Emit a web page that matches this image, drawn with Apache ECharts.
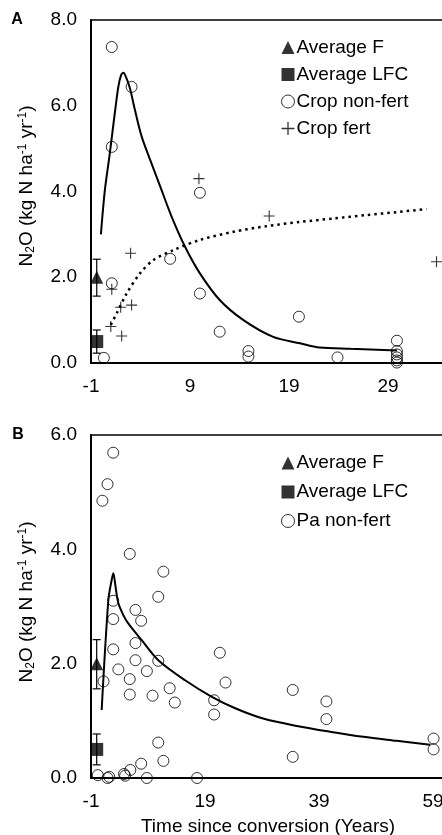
<!DOCTYPE html>
<html><head><meta charset="utf-8">
<script src="https://cdn.jsdelivr.net/npm/echarts@6.0.0/dist/echarts.min.js"></script>
<style>html,body{margin:0;padding:0;background:#fff}#c{width:442px;height:835px}</style>
</head><body><div id="c"></div><script>
// ---------- Panel A (crop) ----------
const xTicksA = { min: -1, max: 39, step: 10 };
const yTicksA = { min: 0, max: 8, step: 2 };
const avgXA = -0.42;
const avgF = [2.0, 1.56, 2.42];      // mean, low, high
const avgLFC = [0.5, 0.23, 0.77];    // mean, low, high
const cropNonFert = [[1.1,7.37],[3.1,6.44],[1.1,5.04],[10,3.97],[1.1,1.86],[7,2.43],[10,1.62],[12,0.73],[20,1.08],[14.9,0.28],[14.9,0.15],[0.3,0.12],[23.9,0.13],[29.9,0.52],[29.9,0.28],[29.9,0.2],[29.9,0.13],[29.9,0.06],[29.9,0.01]];
const cropFert = [[9.9,4.30],[17,3.43],[3,2.56],[33.9,2.36],[1.1,1.72],[2,1.30],[3.1,1.35],[1,0.85],[2.1,0.63]];
const cropNonFertFit = [[0.0,3.0],[0.4,4.03],[0.9,4.89],[1.4,5.82],[1.76,6.44],[2.03,6.71],[2.27,6.77],[2.6,6.63],[2.94,6.40],[3.44,5.90],[4.12,5.28],[5.12,4.65],[6.13,4.03],[7.15,3.41],[8.5,2.71],[10,2.09],[12,1.47],[14.4,1.0],[17.4,0.61],[20.1,0.46],[22.1,0.36],[25.2,0.33],[29.9,0.29]];
const cropFertFit = [[1.0,0.89],[1.6,1.16],[2.6,1.62],[3.95,2.09],[5.3,2.40],[7.3,2.63],[10,2.87],[13.4,3.06],[16.7,3.19],[20.1,3.29],[23.5,3.37],[26.8,3.45],[29.9,3.52],[32.9,3.59]];
const legendA = ['Average F','Average LFC','Crop non-fert','Crop fert'];

// ---------- Panel B (pasture) ----------
const xTicksB = { min: -1, max: 69, step: 20 };
const yTicksB = { min: 0, max: 6, step: 2 };
const avgXB = 0;
const paNonFert = [[1.0,4.85],[1.9,5.14],[2.9,5.69],[5.8,3.92],[11.7,3.61],[10.8,3.17],[2.9,3.10],[6.8,2.94],[2.9,2.78],[7.8,2.75],[6.8,2.36],[2.9,2.25],[6.8,2.06],[10.8,2.05],[3.8,1.90],[8.8,1.87],[1.2,1.69],[5.8,1.73],[12.8,1.57],[5.8,1.46],[9.8,1.44],[13.7,1.32],[21.6,2.19],[22.6,1.67],[20.6,1.36],[20.6,1.11],[10.8,0.62],[11.7,0.30],[7.8,0.25],[5.9,0.14],[4.8,0.07],[5.0,0.04],[2.2,0.02],[1.9,0.0],[0.2,0.05],[8.8,0.0],[17.6,0.0],[34.4,1.54],[40.3,1.34],[40.3,1.03],[34.4,0.37],[59.1,0.69],[59.1,0.50]];
const paNonFertFit = [[0.87,1.19],[2.04,3.11],[2.6,3.45],[2.92,3.58],[3.3,3.35],[3.79,3.06],[4.67,2.85],[5.5,2.71],[7.9,2.41],[10.8,2.06],[15.5,1.71],[20.2,1.42],[24.3,1.22],[29.2,1.04],[35.1,0.91],[40.9,0.81],[46.8,0.72],[52.6,0.65],[58.5,0.58]];
const legendB = ['Average F','Average LFC','Pa non-fert'];

const yName = 'N{sub|2}O (kg N ha{sup|-1} yr{sup|-1})';
const xName = 'Time since conversion (Years)';

const FONT = '"Liberation Sans", Arial, sans-serif';
const plus = 'path://M0,4.5L10,4.5L10,5.5L0,5.5ZM4.5,0L5.5,0L5.5,10L4.5,10Z';

function errRender(params, api) {
  const x = api.value(0), lo = api.value(1), hi = api.value(2);
  const p1 = api.coord([x, lo]), p2 = api.coord([x, hi]);
  const hw = 4, st = { stroke: '#000', lineWidth: 1.2 };
  return { type: 'group', children: [
    { type: 'line', shape: { x1: p1[0], y1: p1[1], x2: p2[0], y2: p2[1] }, style: st },
    { type: 'line', shape: { x1: p1[0]-hw, y1: p1[1], x2: p1[0]+hw, y2: p1[1] }, style: st },
    { type: 'line', shape: { x1: p2[0]-hw, y1: p2[1], x2: p2[0]+hw, y2: p2[1] }, style: st }
  ]};
}

function xAx(i, t) {
  return { gridIndex: i, type: 'value', min: t.min, max: t.max, interval: t.step,
    axisLine: { onZero: false, lineStyle: { color: '#000', width: 2 } },
    axisTick: { show: false }, splitLine: { show: false },
    axisLabel: { color: '#000', fontSize: 19, fontFamily: FONT, margin: 14 } };
}
function yAx(i, t) {
  return { gridIndex: i, type: 'value', min: t.min, max: t.max, interval: t.step,
    axisLine: { show: true, onZero: false, lineStyle: { color: '#000', width: 2 } },
    axisTick: { show: false }, splitLine: { show: false },
    axisLabel: { color: '#000', fontSize: 19, fontFamily: FONT, margin: 14, formatter: v => v.toFixed(1) } };
}
function panelSeries(i, avgX, circles, circName, fit, extra) {
  const s = [
    { type: 'line', name: 'fit' + i, xAxisIndex: i, yAxisIndex: i, data: fit, symbol: 'none', smooth: 0.3,
      lineStyle: { color: '#000', width: 2 }, silent: true, z: 2 },
    { type: 'scatter', name: circName, xAxisIndex: i, yAxisIndex: i, data: circles, symbol: 'circle', symbolSize: 11, clip: false,
      itemStyle: { color: 'rgba(0,0,0,0)', borderColor: '#000', borderWidth: 1 }, z: 3 },
    { type: 'custom', name: 'err' + i, xAxisIndex: i, yAxisIndex: i, renderItem: errRender,
      data: [[avgX, avgF[1], avgF[2]], [avgX, avgLFC[1], avgLFC[2]]], encode: { x: 0, y: [1, 2] }, z: 4, silent: true },
    { type: 'scatter', name: 'Average F', xAxisIndex: i, yAxisIndex: i, data: [[avgX, avgF[0]]], symbol: 'triangle', symbolSize: 13, clip: false,
      itemStyle: { color: '#000' }, z: 5 },
    { type: 'scatter', name: 'Average LFC', xAxisIndex: i, yAxisIndex: i, data: [[avgX, avgLFC[0]]], symbol: 'rect', symbolSize: 13, clip: false,
      itemStyle: { color: '#000' }, z: 5 }
  ];
  return s.concat(extra || []);
}

const series = panelSeries(0, avgXA, cropNonFert, 'Crop non-fert', cropNonFertFit, [
  { type: 'line', name: 'fitFert', xAxisIndex: 0, yAxisIndex: 0, data: cropFertFit, symbol: 'none', smooth: 0.3,
    lineStyle: { color: '#000', width: 2.5, type: [2.5, 4] }, silent: true, z: 2 },
  { type: 'scatter', name: 'Crop fert', xAxisIndex: 0, yAxisIndex: 0, data: cropFert, symbol: plus, symbolSize: 11, clip: false,
    itemStyle: { color: '#000' }, z: 3 }
]).concat(panelSeries(1, avgXB, paNonFert, 'Pa non-fert', paNonFertFit));

function legendItems(names) {
  return names.map(n => {
    if (n === 'Average F') return { name: n, icon: 'triangle', itemStyle: { color: '#000' } };
    if (n === 'Average LFC') return { name: n, icon: 'rect', itemStyle: { color: '#000' } };
    if (n === 'Crop fert') return { name: n, icon: plus, itemStyle: { color: '#000' } };
    return { name: n, icon: 'circle', itemStyle: { color: 'rgba(0,0,0,0)', borderColor: '#000', borderWidth: 1 } };
  });
}
function legend(names, top, gap) {
  return { orient: 'vertical', left: 276, top: top, itemWidth: 13, itemHeight: 13, itemGap: gap, selectedMode: false,
    textStyle: { color: '#000', fontSize: 19, fontFamily: FONT, lineHeight: 19, padding: [0, 0, 0, -3] }, data: legendItems(names) };
}
const rich = {
  sub: { fontSize: 12, lineHeight: 12, verticalAlign: 'bottom', fontFamily: FONT, fill: '#000', color: '#000' },
  sup: { fontSize: 12, lineHeight: 12, verticalAlign: 'top', fontFamily: FONT, fill: '#000', color: '#000' }
};
function yNameText(y) {
  return { type: 'text', x: 27, y: y, rotation: Math.PI / 2,
    style: { text: yName, rich: rich, fontSize: 19, fontFamily: FONT, lineHeight: 20, fill: '#000', align: 'center', verticalAlign: 'middle' } };
}

const chart = echarts.init(document.getElementById('c'), null, { renderer: 'canvas' });
chart.setOption({
  animation: false,
  backgroundColor: '#fff',
  grid: [
    { left: 91, right: -45, top: 20, bottom: 472, containLabel: false, outerBoundsMode: 'none', show: true, borderColor: '#000', borderWidth: 1.3, backgroundColor: 'transparent' },
    { left: 91, right: -48, top: 435, bottom: 57, containLabel: false, outerBoundsMode: 'none', show: true, borderColor: '#000', borderWidth: 1.3, backgroundColor: 'transparent' }
  ],
  xAxis: [xAx(0, xTicksA), xAx(1, xTicksB)],
  yAxis: [yAx(0, yTicksA), yAx(1, yTicksB)],
  legend: [legend(legendA, 33, 8), legend(legendB, 448.5, 10)],
  series: series,
  graphic: [
    { type: 'text', x: 17, y: 20, style: { text: 'A', fontSize: 16, fontWeight: 'bold', fontFamily: FONT, fill: '#000', align: 'center', verticalAlign: 'middle' } },
    { type: 'text', x: 18, y: 435, style: { text: 'B', fontSize: 16, fontWeight: 'bold', fontFamily: FONT, fill: '#000', align: 'center', verticalAlign: 'middle' } },
    yNameText(186), yNameText(602),
    { type: 'text', x: 268, y: 827, style: { text: xName, fontSize: 19, fontFamily: FONT, fill: '#000', align: 'center', verticalAlign: 'middle' } }
  ]
});
</script></body></html>
